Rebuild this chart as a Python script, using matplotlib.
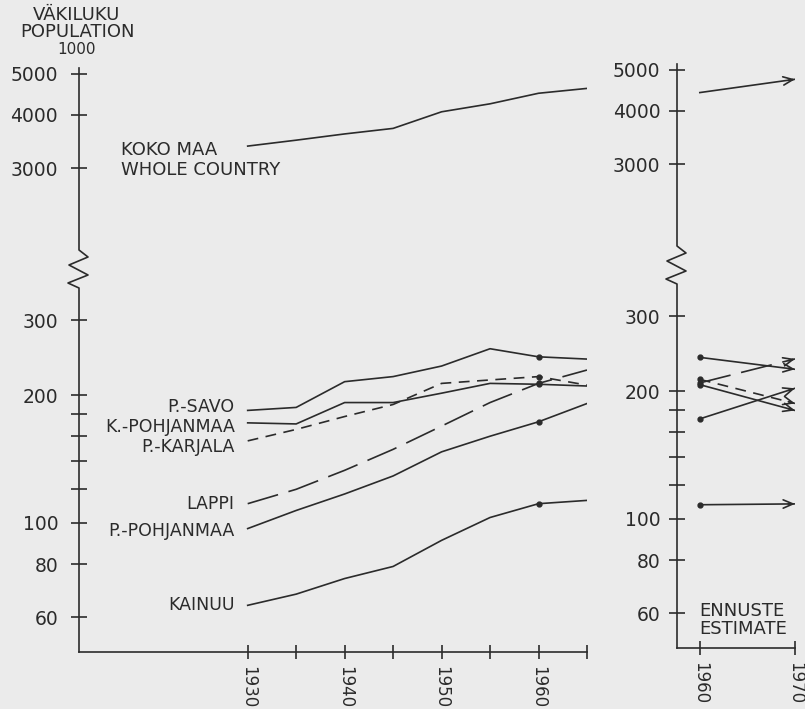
import numpy as np
import matplotlib
matplotlib.use("Agg")
import matplotlib.pyplot as plt
from matplotlib.ticker import FixedLocator, NullFormatter

# population, thousands
years = [1930, 1935, 1940, 1945, 1950, 1955, 1960, 1965]
koko_maa = [3380, 3490, 3610, 3720, 4070, 4250, 4500, 4620]
p_savo = [184, 187, 215, 221, 234, 257, 246, 243]
k_pohjanmaa = [172, 171, 192, 192, 202, 213, 212, 210]
p_karjala = [156, 166, 178, 190, 213, 217, 221, 211]
lappi = [111, 120, 133, 149, 169, 192, 213, 229]
p_pohjanmaa = [97, 107, 117, 129, 147, 160, 173, 191]
kainuu = [64, 68, 74, 79, 91, 103, 111, 113]

# estimate 1960 -> 1970
est_years = [1960, 1970]
est_koko_maa = [4420, 4750]
est_p_savo = [240, 225]
est_lappi = [209, 238]
est_k_pohjanmaa = [207, 180]
est_p_karjala = [213, 187]
est_p_pohjanmaa = [172, 203]
est_kainuu = [108, 108.5]

region_names = ["P.-SAVO", "K.-POHJANMAA", "P.-KARJALA", "LAPPI", "P.-POHJANMAA", "KAINUU"]
regions = [p_savo, k_pohjanmaa, p_karjala, lappi, p_pohjanmaa, kainuu]
est_regions = [est_p_savo, est_k_pohjanmaa, est_p_karjala, est_lappi, est_p_pohjanmaa, est_kainuu]

major_ticks = [60, 80, 100, 200, 300, 3000, 4000, 5000]
minor_ticks = [120, 140, 160, 180]

BG = "#ebebeb"
INK = "#2b2b2b"
LW = 1.2
short_dash = (0, (6.5, 4.5))
long_dash = (0, (19, 6.5))
styles = ["-", "-", short_dash, long_dash, "-", "-"]
label_dy = [3, -4, -6, 0, -2, 0]

plt.rcParams["font.family"] = ["DejaVu Sans"]
plt.rcParams["text.color"] = INK

# log scale with the 360..1900 stretch squeezed (broken axis)
LO, HI, KEEP = 357.0, 1905.0, 0.117
A, B = np.log10(LO), np.log10(HI)
C = A + (B - A) * KEEP


def fwd(v):
    t = np.log10(np.clip(np.asarray(v, float), 1e-6, None))
    return np.where(t <= A, t, np.where(t >= B, t - (B - A) + (C - A), A + (t - A) * KEEP))


def inv(t):
    t = np.asarray(t, float)
    return 10 ** np.where(t <= A, t, np.where(t >= C, t + (B - A) - (C - A), A + (t - A) / KEEP))


fig = plt.figure(figsize=(8.05, 7.09), dpi=100, facecolor=BG)
ax1 = fig.add_axes([79 / 805, 1 - 652 / 709, 508 / 805, 584 / 709])
ax2 = fig.add_axes([677 / 805, 1 - 648 / 709, 118 / 805, 584 / 709])


def setup(ax, xlim, xticks, xlabels, ypad):
    ax.set_facecolor("none")
    ax.set_yscale("function", functions=(fwd, inv))
    ax.set_ylim(49.7, 5160)
    ax.set_xlim(*xlim)
    for s in ["top", "right", "left"]:
        ax.spines[s].set_visible(False)
    ax.spines["bottom"].set_linewidth(LW)
    ax.spines["bottom"].set_color(INK)
    ax.yaxis.set_major_locator(FixedLocator(major_ticks))
    ax.set_yticklabels([str(t) for t in major_ticks])
    ax.yaxis.set_minor_locator(FixedLocator(minor_ticks))
    ax.yaxis.set_minor_formatter(NullFormatter())
    ax.tick_params(axis="y", which="both", direction="inout", length=12, width=LW,
                   color=INK, labelcolor=INK, labelsize=13.5, pad=ypad)
    ax.set_xticks(xticks)
    ax.set_xticklabels(xlabels, rotation=270)
    ax.tick_params(axis="x", direction="inout", length=10, width=LW,
                   color=INK, labelcolor=INK, labelsize=12, pad=5)
    # left axis line with zigzag break
    w = ax.get_position().width * fig.get_size_inches()[0] * fig.dpi
    h = ax.get_position().height * fig.get_size_inches()[1] * fig.dpi
    zx = [0, 0, -11, 9, -10, 9, 0, 0]
    zy = [0, 364, 369, 377, 387, 395, 402, h]
    ax.plot([x / w for x in zx], [y / h for y in zy], color=INK, lw=LW,
            transform=ax.transAxes, clip_on=False)


setup(ax1, (1912.6, 1965), list(range(1930, 1966, 5)),
      ["1930", "", "1940", "", "1950", "", "1960", ""], 9)
setup(ax2, (1957.6, 1970), [1960, 1970], ["1960", "1970"], 6)

# historical lines
ax1.plot(years, koko_maa, color=INK, lw=LW)
ax1.annotate("KOKO MAA\nWHOLE COUNTRY", xy=(years[0], koko_maa[0]), xytext=(-127, -14),
             textcoords="offset pixels", ha="left", va="center", fontsize=13)
for name, vals, ls, dy in zip(region_names, regions, styles, label_dy):
    ax1.plot(years, vals, color=INK, lw=LW, ls=ls)
    ax1.plot(years[6], vals[6], "o", color=INK, ms=3.5)
    ax1.annotate(name, xy=(years[0], vals[0]), xytext=(-13, dy),
                 textcoords="offset pixels", ha="right", va="center", fontsize=12.5)


def arrow(ax, xs, ys, ls):
    ax.plot(xs, ys, color=INK, lw=LW, ls=ls)
    f = 0.93
    x0 = xs[0] + (xs[1] - xs[0]) * f
    y0 = ys[0] * (ys[1] / ys[0]) ** f
    ax.annotate("", xy=(xs[1], ys[1]), xytext=(x0, y0),
                arrowprops=dict(arrowstyle="->,head_length=0.7,head_width=0.3",
                                color=INK, lw=LW, shrinkA=0, shrinkB=0),
                annotation_clip=False)


arrow(ax2, est_years, est_koko_maa, "-")
for vals, ls in zip(est_regions, styles):
    arrow(ax2, est_years, vals, ls)
    ax2.plot(est_years[0], vals[0], "o", color=INK, ms=3.5)

ax2.text(0.19, 0.048, "ENNUSTE\nESTIMATE", transform=ax2.transAxes, ha="left",
         va="center", fontsize=13, linespacing=1.0)

fig.text(77 / 805, 1 - 15 / 709, "VÄKILUKU", ha="center", va="center", fontsize=13)
fig.text(77 / 805, 1 - 32 / 709, "POPULATION", ha="center", va="center", fontsize=13)
fig.text(77 / 805, 1 - 50 / 709, "1000", ha="center", va="center", fontsize=11)

fig.savefig("out.png", dpi=100, facecolor=BG)
